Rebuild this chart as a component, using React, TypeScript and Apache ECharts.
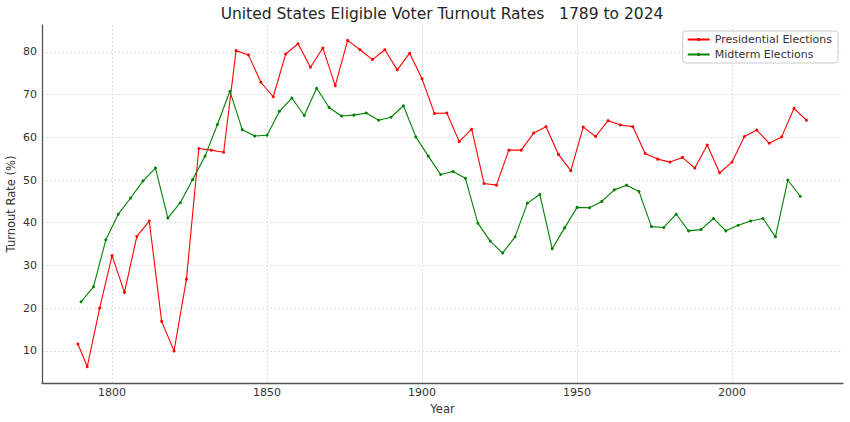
import React, { useEffect, useRef } from "react";
import * as echarts from "echarts";

const presYears = [
  1789, 1792, 1796, 1800, 1804, 1808, 1812, 1816, 1820, 1824, 1828, 1832, 1836, 1840, 1844, 1848,
  1852, 1856, 1860, 1864, 1868, 1872, 1876, 1880, 1884, 1888, 1892, 1896, 1900, 1904, 1908, 1912,
  1916, 1920, 1924, 1928, 1932, 1936, 1940, 1944, 1948, 1952, 1956, 1960, 1964, 1968, 1972, 1976,
  1980, 1984, 1988, 1992, 1996, 2000, 2004, 2008, 2012, 2016, 2020, 2024,
];
const presValues = [
  11.6, 6.3, 20.0, 32.3, 23.7, 36.8, 40.4, 16.9, 10.0, 26.8, 57.4, 57.0, 56.5, 80.3, 79.3, 72.9,
  69.5, 79.5, 81.9, 76.4, 80.9, 72.1, 82.7, 80.5, 78.2, 80.5, 75.8, 79.7, 73.7, 65.6, 65.7, 59.0,
  61.9, 49.2, 48.8, 57.0, 57.0, 61.0, 62.5, 56.0, 52.2, 62.4, 60.2, 63.9, 62.9, 62.5, 56.2, 54.9,
  54.2, 55.3, 52.8, 58.2, 51.7, 54.2, 60.2, 61.7, 58.6, 60.1, 66.8, 64.0,
];
const midYears = [
  1790, 1794, 1798, 1802, 1806, 1810, 1814, 1818, 1822, 1826, 1830, 1834, 1838, 1842, 1846, 1850,
  1854, 1858, 1862, 1866, 1870, 1874, 1878, 1882, 1886, 1890, 1894, 1898, 1902, 1906, 1910, 1914,
  1918, 1922, 1926, 1930, 1934, 1938, 1942, 1946, 1950, 1954, 1958, 1962, 1966, 1970, 1974, 1978,
  1982, 1986, 1990, 1994, 1998, 2002, 2006, 2010, 2014, 2018, 2022,
];
const midValues = [
  21.5, 25.0, 36.0, 42.0, 45.8, 49.8, 52.8, 41.1, 44.7, 50.1, 55.6, 63.0, 70.8, 61.8, 60.3, 60.5,
  66.1, 69.2, 65.1, 71.5, 67.0, 65.0, 65.2, 65.7, 64.0, 64.7, 67.4, 60.1, 55.6, 51.3, 52.0, 50.4,
  39.9, 35.7, 32.9, 36.7, 44.6, 46.6, 33.9, 38.8, 43.6, 43.5, 45.0, 47.7, 48.8, 47.3, 39.1, 38.9,
  42.0, 38.1, 38.4, 41.0, 38.1, 39.4, 40.4, 41.0, 36.7, 50.0, 46.2,
];
const xTicks = [1800, 1850, 1900, 1950, 2000];
const yTicks = [10, 20, 30, 40, 50, 60, 70, 80];

const FONT = "DejaVu Sans";

export default function App() {
  const ref = useRef<HTMLDivElement>(null);
  useEffect(() => {
    if (!ref.current) return;
    const chart = echarts.init(ref.current, undefined, { renderer: "svg" });
    const gridLine = { show: true, lineStyle: { color: "#d9d9d9", width: 0.8, type: [2, 2] } };
    chart.setOption({
      animation: false,
      backgroundColor: "#ffffff",
      textStyle: { fontFamily: FONT },
      graphic: [
        {
          type: "text",
          x: 442,
          y: 14,
          style: {
            text: "United States Eligible Voter Turnout Rates   1789 to 2024",
            fontFamily: FONT,
            fontSize: 15.5,
            fill: "#262626",
            textAlign: "center",
            textVerticalAlign: "middle",
          },
        },
      ],
      legend: {
        orient: "vertical",
        right: 12,
        top: 31,
        itemWidth: 22,
        itemHeight: 4,
        itemGap: 4,
        padding: [3, 6, 3, 4],
        borderColor: "#cccccc",
        borderWidth: 1,
        borderRadius: 3,
        backgroundColor: "rgba(255,255,255,0.8)",
        textStyle: { fontFamily: FONT, fontSize: 11, color: "#333" },
        data: ["Presidential Elections", "Midterm Elections"],
      },
      grid: { left: 42, right: 7, top: 25, bottom: 39, containLabel: false, outerBoundsMode: "none" },
      xAxis: {
        type: "value",
        min: 1777.4,
        max: 2035.8,
        name: "Year",
        nameLocation: "middle",
        nameGap: 20,
        nameMoveOverlap: false,
        nameTextStyle: { fontFamily: FONT, fontSize: 11.5, color: "#333" },
        axisLine: { show: true, lineStyle: { color: "#555", width: 1.3 } },
        axisTick: { show: false, customValues: xTicks },
        axisLabel: {
          customValues: xTicks,
          formatter: (v: number) => String(v),
          fontFamily: FONT,
          fontSize: 11,
          color: "#333",
          margin: 4,
        },
        splitLine: gridLine,
      },
      yAxis: {
        type: "value",
        min: 2.48,
        max: 86.3,
        name: "Turnout Rate (%)",
        nameLocation: "middle",
        nameGap: 25,
        nameMoveOverlap: false,
        nameTextStyle: { fontFamily: FONT, fontSize: 11.5, color: "#333" },
        axisLine: { show: true, lineStyle: { color: "#555", width: 1.3 } },
        axisTick: { show: false, customValues: yTicks },
        axisLabel: {
          customValues: yTicks,
          formatter: (v: number) => String(v),
          fontFamily: FONT,
          fontSize: 11,
          color: "#333",
          margin: 5,
        },
        splitLine: gridLine,
      },
      series: [
        {
          name: "Presidential Elections",
          type: "line",
          data: presYears.map((y, i) => [y, presValues[i]]),
          color: "#ff0000",
          lineStyle: { width: 1.1, color: "#ff0000" },
          symbol: "circle",
          symbolSize: 3,
          showAllSymbol: true,
          itemStyle: { color: "#ff0000" },
        },
        {
          name: "Midterm Elections",
          type: "line",
          data: midYears.map((y, i) => [y, midValues[i]]),
          color: "#008000",
          lineStyle: { width: 1.1, color: "#008000" },
          symbol: "circle",
          symbolSize: 3,
          showAllSymbol: true,
          itemStyle: { color: "#008000" },
        },
      ],
    });
    return () => chart.dispose();
  }, []);
  return (
    <div
      ref={ref}
      style={{ position: "fixed", left: 0, top: 0, width: 850, height: 422 }}
    />
  );
}
